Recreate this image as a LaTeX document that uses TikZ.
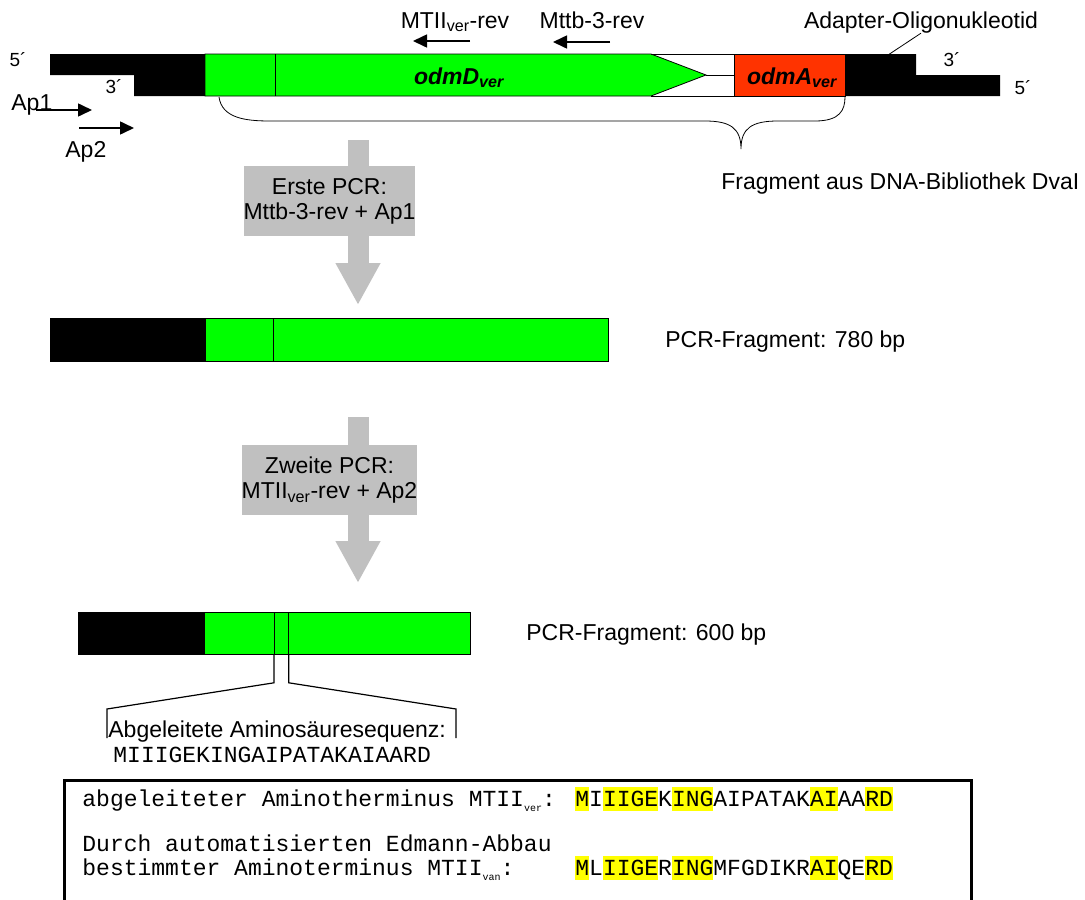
\documentclass[tikz,border=0pt]{standalone}
\usepackage{fontspec}
\setmainfont{Liberation Sans}
\newfontfamily\seqfont{Liberation Mono}
\usetikzlibrary{arrows.meta}
\definecolor{genegreen}{RGB}{0,255,0}
\definecolor{genered}{RGB}{255,51,0}
\definecolor{pcrgray}{RGB}{192,192,192}
\definecolor{hlyellow}{RGB}{255,255,0}
\newcommand{\hlaa}[1]{{\setlength{\fboxsep}{0pt}\colorbox{hlyellow}{\rule[-5pt]{0pt}{24pt}#1}}}
\newcommand{\subsm}[1]{\raisebox{-5pt}{\fontsize{10}{10}\selectfont #1}}
\begin{document}
\begin{tikzpicture}[x=1pt, y=-1pt, line width=0.8pt,
% common options for labels:
lbl/.style = {font=\fontsize{23}{26}\selectfont, inner sep=0, anchor=base west},
endlbl/.style = {font=\fontsize{19}{22}\selectfont, inner sep=0, anchor=base},
gene/.style = {font=\bfseries\itshape\fontsize{23}{26}\selectfont, inner sep=0, anchor=base},
seqtext/.style = {font=\seqfont\fontsize{23}{26}\selectfont, inner sep=0, anchor=base west},
% common options for blocks:
block/.style = {draw, fill=genegreen, anchor=north west, minimum height=43, inner sep=0},
blackblock/.style = {block, fill=black},
% common options for the arrows:
primer/.style = {-{Triangle[length=14pt,width=13pt]}, line width=1.6pt},
pcrarrow/.style = {pcrgray, line width=21pt, -{Triangle[length=42pt,width=42pt]}},
pcrbox/.style = {fill=pcrgray, align=center, minimum width=167, minimum height=70,
            inner sep=0, font=\fontsize{23}{25}\selectfont}]
\useasboundingbox (0,0) rectangle (1085,900);
% Fragment aus der Bibliothek
\fill (50,54) -- (205,54) -- (205,96) -- (134,96) -- (134,75) -- (50,75) -- cycle;
\draw[fill=genegreen] (205,54) -- (651,54) -- (706,75) -- (651,96) -- (205,96) -- cycle;
\draw (275,54) -- (275,96);
\draw (651,54) -- (734,54) (651,96) -- (734,96) (706,75) -- (734,75);
\node[draw, fill=genered, anchor=north west, minimum width=111, minimum height=42, inner sep=0] (odmA) at (734,54) {};
\fill (845,54) -- (916,54) -- (916,75) -- (1000,75) -- (1000,96) -- (845,96) -- cycle;
\node[gene] (odmDl) at (459,84) {odmD\textsubscript{ver}};
\node[gene] (odmAl) at (792,84) {odmA\textsubscript{ver}};
\node[endlbl] (l5) at (18,66) {5´};
\node[endlbl] (l3) at (114,93) {3´};
\node[endlbl] (r3) at (952,66) {3´};
\node[endlbl] (r5) at (1023,94) {5´};
% Primer
\node[lbl] (ap1) at (11,110) {Ap1};
\node[lbl] (ap2) at (65,157) {Ap2};
\node[lbl, anchor=base] (mtii) at (455,28) {MTII\textsubscript{ver}-rev};
\node[lbl, anchor=base] (mttb) at (592,28) {Mttb-3-rev};
\node[lbl, anchor=base] (adapt) at (921,28) {Adapter-Oligonukleotid};
\coordinate (ap1s) at (36,110);
\coordinate (ap1e) at (92,110);
\coordinate (ap2s) at (79,128);
\coordinate (ap2e) at (134,128);
\coordinate (mtiis) at (470,41);
\coordinate (mtiie) at (413,41);
\coordinate (mttbs) at (610,42);
\coordinate (mttbe) at (553,42);
\coordinate (adaptl) at (888,55);
\draw[primer] (ap1s) -- (ap1e);
\draw[primer] (ap2s) -- (ap2e);
\draw[primer] (mtiis) -- (mtiie);
\draw[primer] (mttbs) -- (mttbe);
\draw (adaptl) -- (adapt.south);
% Klammer
\coordinate (brl) at (219,97);
\coordinate (brt) at (741,149);
\coordinate (brr) at (845,97);
\draw (brl) .. controls (222,118) and (245,121) .. (270,121) -- (705,121)
  .. controls (730,121) and (741,128) .. (brt)
  .. controls (741,128) and (752,121) .. (778,121) -- (815,121)
  .. controls (840,121) and (845,110) .. (brr);
\node[lbl] (frag) at (721,189) {Fragment aus DNA-Bibliothek DvaI};
% erste PCR
\coordinate (sh1) at (358,140);
\coordinate (tip1) at (358,305);
\draw[pcrarrow] (sh1) -- (tip1);
\node[pcrbox] (pcr1) at (329.5,201) {Erste PCR:\\Mttb-3-rev + Ap1};
\node[blackblock, minimum width=155] (fA0) at (50,318) {};
\node[block, minimum width=68] (fA1) at (205,318) {};
\node[block, minimum width=335] (fA2) at (273,318) {};
\node[lbl] (lenA) at (665,347) {PCR-Fragment: 780 bp};
% zweite PCR
\coordinate (sh2) at (358,417);
\coordinate (tip2) at (358,583);
\draw[pcrarrow] (sh2) -- (tip2);
\node[pcrbox] (pcr2) at (329.5,480) {Zweite PCR:\\MTII\textsubscript{ver}-rev + Ap2};
\node[blackblock, minimum width=126, minimum height=42] (fB0) at (78,612) {};
\node[block, minimum width=70, minimum height=42] (fB1) at (204,612) {};
\node[block, minimum width=14, minimum height=42] (fB2) at (274,612) {};
\node[block, minimum width=182, minimum height=42] (fB3) at (288,612) {};
\node[lbl] (lenB) at (526,640) {PCR-Fragment: 600 bp};
\coordinate (zl) at (107,738);
\coordinate (zr) at (456,738);
\draw[line width=1.2pt] (fB2.south west) -- ++(0,28) -- (107,709) -- (zl);
\draw[line width=1.2pt] (fB2.south east) -- ++(0,28) -- (456,709) -- (zr);
\node[lbl] (aatext) at (108,737) {Abgeleitete Aminosäuresequenz:};
\node[seqtext] (aaseq) at (113,762) {MIIIGEKINGAIPATAKAIAARD};
% Vergleich der Aminotermini
\draw[line width=3pt] (64,903) -- (64,780) -- (971,780) -- (971,903);
\node[seqtext] (verl) at (82,806) {abgeleiteter Aminotherminus MTII\subsm{ver}:};
\node[seqtext] (vers) at (575,806) {\hlaa{M}I\hlaa{IIGE}K\hlaa{ING}AIPATAK\hlaa{AI}AA\hlaa{RD}};
\node[seqtext] (edm) at (82,851) {Durch automatisierten Edmann-Abbau};
\node[seqtext] (vanl) at (82,875) {bestimmter Aminoterminus MTII\subsm{van}:};
\node[seqtext] (vans) at (575,875) {\hlaa{M}L\hlaa{IIGE}R\hlaa{ING}MFGDIKR\hlaa{AI}QE\hlaa{RD}};
\end{tikzpicture}
\end{document}
